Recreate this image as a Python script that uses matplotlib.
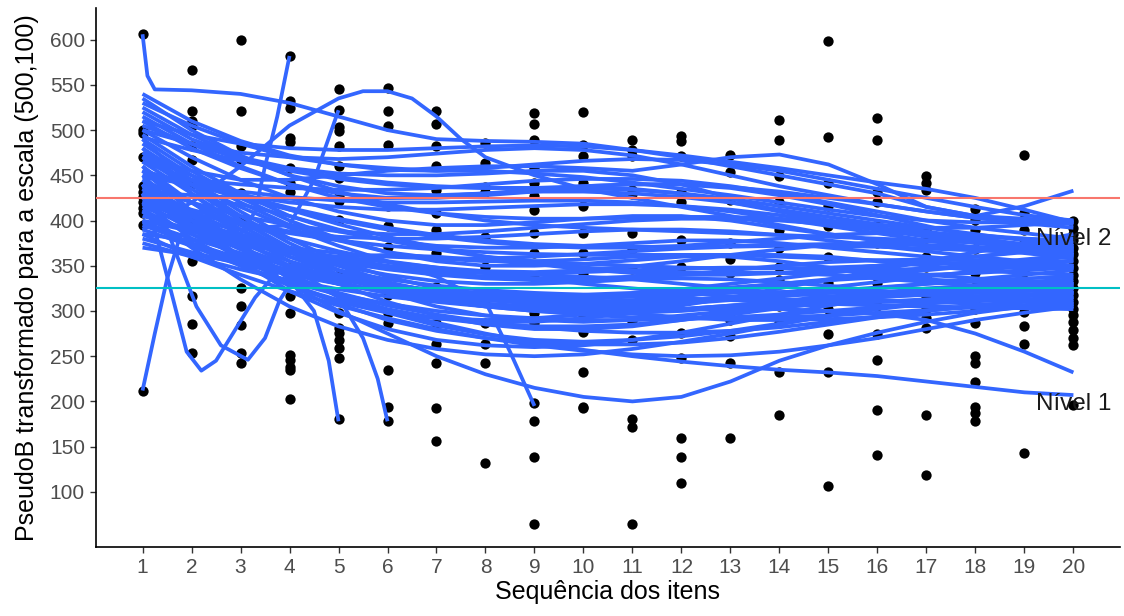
import matplotlib
matplotlib.use("Agg")
import matplotlib.pyplot as plt

plt.rcParams['font.family'] = ['Liberation Sans', 'DejaVu Sans']

# ---------- data ----------
items = list(range(1, 21))
y_ticks = [100, 150, 200, 250, 300, 350, 400, 450, 500, 550, 600]

# observed scores, one list per item position
points_by_item = [
    [606, 500, 497, 438, 432, 426, 420, 414, 408, 470, 395, 212],
    [567, 521, 510, 505, 482, 467, 440, 400, 355, 317, 286, 253],
    [600, 521, 482, 467, 430, 399, 359, 325, 305, 284, 254, 243],
    [582, 532, 524, 491, 487, 458, 442, 431, 348, 316, 298, 251, 246, 238, 235, 203],
    [545, 522, 503, 499, 482, 460, 447, 427, 422, 401, 357, 340, 298, 281, 276, 268, 259, 248, 180],
    [546, 521, 504, 484, 416, 394, 371, 318, 298, 287, 235, 194, 178],
    [521, 507, 482, 460, 434, 408, 390, 364, 327, 287, 263, 243, 193, 156],
    [486, 464, 437, 431, 382, 349, 312, 287, 263, 243, 132],
    [519, 507, 489, 458, 442, 427, 412, 386, 364, 338, 298, 287, 198, 178, 138, 64],
    [520, 484, 471, 442, 416, 386, 364, 342, 305, 294, 277, 232, 194, 193],
    [489, 478, 471, 434, 429, 386, 368, 346, 302, 289, 268, 180, 172, 64],
    [493, 488, 471, 431, 421, 379, 349, 316, 276, 248, 160, 138, 110],
    [473, 454, 423, 375, 357, 342, 298, 290, 272, 243, 160],
    [511, 489, 449, 421, 390, 370, 349, 334, 305, 287, 232, 185],
    [599, 492, 442, 416, 394, 360, 331, 302, 274, 232, 106],
    [513, 489, 431, 421, 394, 375, 331, 305, 274, 246, 191, 141],
    [449, 442, 434, 390, 381, 360, 338, 316, 302, 292, 281, 185, 119],
    [413, 401, 390, 368, 342, 327, 312, 302, 287, 250, 243, 222, 194, 187, 178],
    [473, 408, 389, 375, 351, 343, 299, 283, 263, 143],
    [399, 392, 385, 378, 370, 363, 355, 348, 340, 333, 325, 318, 310, 302, 295,
     288, 279, 270, 262, 196],
]

# smoothed trajectories that span items 1..20
full_curves = [
    [530, 505, 485, 470, 462, 458, 455, 455, 452, 448, 442, 435, 428, 420, 412, 405, 400, 398, 398, 398],
    [520, 490, 470, 458, 452, 450, 450, 452, 455, 455, 450, 440, 425, 410, 400, 395, 392, 392, 395, 398],
    [510, 480, 458, 440, 430, 425, 425, 428, 432, 435, 435, 430, 420, 410, 400, 390, 385, 382, 380, 378],
    [500, 470, 445, 425, 410, 400, 395, 395, 398, 402, 405, 405, 400, 392, 385, 378, 372, 368, 365, 362],
    [495, 460, 430, 405, 388, 378, 372, 370, 370, 372, 375, 378, 378, 375, 370, 365, 360, 355, 352, 350],
    [490, 455, 425, 400, 380, 365, 355, 350, 350, 352, 356, 360, 362, 362, 360, 355, 350, 345, 342, 340],
    [485, 450, 420, 395, 378, 365, 358, 355, 355, 357, 360, 362, 360, 355, 348, 340, 335, 332, 330, 330],
    [480, 445, 410, 380, 355, 338, 325, 318, 315, 315, 318, 322, 326, 330, 334, 337, 340, 342, 345, 348],
    [475, 440, 405, 375, 350, 332, 320, 312, 308, 306, 306, 308, 312, 316, 320, 325, 330, 335, 340, 345],
    [470, 435, 400, 370, 345, 325, 312, 305, 300, 298, 298, 300, 304, 308, 312, 316, 318, 320, 322, 325],
    [465, 430, 395, 365, 340, 320, 305, 295, 290, 288, 290, 295, 300, 305, 310, 315, 318, 320, 322, 325],
    [460, 420, 385, 355, 330, 310, 295, 285, 280, 280, 283, 290, 298, 305, 312, 318, 322, 325, 327, 328],
    [455, 440, 428, 420, 415, 412, 412, 414, 416, 418, 418, 416, 412, 406, 398, 390, 382, 375, 370, 365],
    [450, 445, 440, 436, 434, 434, 436, 440, 444, 446, 446, 444, 438, 430, 420, 410, 400, 392, 386, 380],
    [448, 440, 432, 426, 422, 420, 420, 421, 422, 422, 420, 416, 410, 402, 394, 386, 378, 370, 364, 358],
    [445, 405, 370, 340, 316, 298, 284, 274, 268, 266, 268, 272, 278, 286, 294, 302, 308, 314, 318, 322],
    [440, 410, 385, 365, 350, 340, 333, 330, 330, 332, 335, 336, 335, 332, 328, 322, 318, 315, 312, 310],
    [438, 420, 405, 395, 388, 385, 385, 388, 392, 396, 400, 402, 402, 400, 396, 390, 384, 378, 372, 367],
    [435, 405, 380, 360, 345, 335, 328, 323, 320, 318, 316, 314, 312, 310, 308, 306, 305, 304, 303, 302],
    [432, 428, 425, 424, 424, 425, 427, 430, 432, 432, 430, 426, 420, 412, 404, 396, 388, 380, 372, 365],
    [430, 400, 375, 355, 340, 330, 322, 316, 312, 310, 310, 312, 315, 318, 320, 320, 318, 315, 310, 305],
    [428, 412, 398, 388, 382, 380, 380, 382, 385, 388, 390, 390, 388, 384, 378, 372, 366, 360, 355, 350],
    [425, 395, 370, 350, 335, 325, 318, 314, 312, 313, 316, 320, 325, 330, 335, 340, 345, 350, 355, 360],
    [422, 408, 396, 386, 378, 372, 368, 365, 363, 362, 362, 362, 362, 360, 358, 356, 354, 352, 350, 348],
    [420, 400, 382, 368, 358, 350, 345, 342, 340, 338, 335, 330, 325, 320, 316, 312, 310, 308, 306, 305],
    [418, 392, 368, 348, 332, 320, 312, 306, 302, 300, 300, 302, 306, 310, 315, 320, 325, 328, 330, 332],
    [415, 395, 378, 365, 355, 348, 344, 342, 342, 343, 345, 347, 348, 348, 346, 343, 340, 336, 333, 330],
    [412, 385, 360, 338, 320, 306, 296, 288, 282, 278, 276, 276, 278, 282, 288, 294, 300, 306, 311, 315],
    [410, 385, 362, 344, 330, 320, 313, 308, 305, 303, 302, 302, 303, 305, 307, 310, 313, 316, 318, 320],
    [405, 390, 376, 364, 354, 346, 340, 336, 334, 334, 336, 340, 345, 350, 354, 356, 357, 356, 354, 350],
    [400, 388, 378, 370, 364, 360, 358, 358, 360, 363, 366, 369, 371, 372, 372, 371, 369, 367, 365, 363],
    [398, 380, 364, 350, 338, 328, 320, 314, 310, 308, 308, 310, 314, 318, 322, 326, 330, 333, 336, 338],
    [395, 375, 358, 345, 335, 328, 323, 320, 318, 318, 320, 324, 330, 336, 342, 348, 354, 360, 366, 372],
    [390, 372, 356, 342, 330, 320, 312, 305, 300, 296, 293, 292, 292, 293, 295, 298, 301, 304, 306, 308],
    [385, 360, 340, 322, 306, 292, 280, 270, 262, 256, 252, 250, 251, 255, 262, 270, 280, 290, 298, 305],
    [380, 365, 352, 340, 330, 322, 316, 312, 310, 310, 312, 316, 322, 328, 334, 340, 346, 352, 357, 362],
    [375, 360, 346, 334, 324, 316, 310, 305, 302, 300, 300, 302, 305, 309, 313, 317, 320, 322, 324, 325],
    [370, 362, 354, 346, 338, 330, 322, 315, 308, 302, 297, 293, 290, 290, 291, 293, 296, 300, 304, 308],
    [420, 390, 360, 330, 300, 275, 250, 230, 215, 205, 200, 205, 222, 245, 262, 276, 288, 298, 305, 310],
    [445, 405, 370, 340, 318, 300, 287, 275, 265, 257, 250, 244, 239, 235, 232, 228, 222, 216, 210, 207],
    [455, 420, 390, 365, 345, 330, 320, 313, 308, 305, 303, 302, 302, 302, 300, 297, 290, 275, 255, 232],
    [410, 370, 335, 305, 283, 268, 258, 252, 250, 252, 258, 266, 275, 285, 295, 303, 310, 315, 318, 320],
    [435, 395, 360, 330, 308, 290, 278, 270, 265, 263, 263, 265, 270, 277, 285, 293, 300, 306, 310, 313],
    [510, 495, 485, 480, 478, 478, 480, 482, 483, 482, 478, 472, 465, 458, 450, 442, 435, 425, 412, 398],
    [540, 510, 488, 472, 462, 456, 455, 458, 462, 466, 468, 467, 462, 455, 445, 435, 425, 415, 406, 400],
    [500, 485, 475, 470, 468, 470, 474, 478, 480, 478, 472, 462, 450, 438, 428, 418, 410, 403, 399, 396],
    [525, 495, 470, 450, 438, 430, 428, 430, 434, 438, 440, 440, 437, 432, 425, 418, 410, 403, 397, 392],
    [470, 455, 445, 445, 450, 455, 458, 460, 460, 458, 455, 462, 470, 473, 462, 440, 415, 405, 416, 433],
    [460, 410, 370, 340, 318, 302, 292, 286, 283, 283, 285, 290, 296, 303, 310, 316, 321, 325, 328, 330],
    [490, 440, 400, 368, 345, 328, 316, 308, 303, 300, 300, 302, 306, 311, 316, 320, 323, 325, 326, 326],
    [505, 485, 468, 455, 446, 440, 437, 436, 436, 436, 434, 430, 424, 416, 408, 400, 392, 385, 378, 372],
    [515, 485, 460, 440, 425, 415, 408, 404, 402, 402, 403, 404, 404, 402, 398, 392, 386, 380, 374, 368],
    [535, 500, 472, 450, 432, 418, 408, 400, 395, 392, 390, 388, 386, 384, 382, 380, 378, 376, 374, 372],
    [450, 400, 360, 330, 310, 298, 292, 290, 292, 296, 302, 308, 314, 320, 326, 332, 338, 344, 350, 356],
    [480, 430, 390, 360, 340, 326, 318, 314, 313, 314, 316, 318, 320, 321, 322, 322, 321, 320, 318, 316],
    [420, 380, 350, 328, 312, 300, 292, 288, 288, 292, 298, 306, 315, 325, 335, 345, 355, 365, 375, 385],
    [465, 445, 428, 414, 402, 392, 384, 378, 374, 372, 371, 371, 372, 373, 374, 374, 373, 371, 368, 365],
    [400, 372, 350, 332, 318, 308, 300, 295, 292, 290, 290, 291, 293, 296, 300, 304, 308, 312, 316, 320],
    [440, 395, 355, 322, 298, 280, 268, 262, 260, 262, 268, 276, 286, 296, 306, 315, 322, 328, 332, 335],
    [470, 450, 430, 412, 396, 382, 370, 360, 352, 346, 342, 340, 340, 342, 346, 350, 355, 360, 365, 370],
    [385, 378, 372, 366, 360, 354, 348, 342, 336, 330, 325, 320, 316, 313, 311, 310, 310, 311, 313, 315],
    [455, 440, 425, 412, 400, 390, 382, 376, 372, 370, 370, 372, 376, 380, 384, 386, 386, 384, 380, 375],
    [492, 478, 466, 456, 448, 442, 438, 436, 436, 438, 440, 440, 436, 428, 418, 406, 394, 382, 372, 362],
    [445, 420, 398, 380, 366, 355, 348, 344, 343, 345, 349, 355, 362, 368, 373, 376, 377, 376, 373, 369],
]

# trajectories with uneven item positions (steep ends / early stops)
part_x = [
    [1, 1.1, 1.25, 2, 3, 4, 5, 6, 7, 8, 9, 10, 11, 12, 13, 14, 15, 16, 17, 18, 19, 20],
    [1, 2, 3, 4, 5, 5.5, 6, 6.5, 7, 7.5, 8, 9, 10, 11, 12, 13, 14, 15, 16, 17, 18, 19, 20],
    [1, 1.25, 1.5, 1.75, 2, 2.5, 3, 4, 5, 6, 7, 8, 9, 10, 11, 12, 13, 14, 15, 16, 17, 18, 19, 20],
    [1, 2, 3, 4, 4.5, 4.8, 5],
    [1, 2, 3, 4, 5, 5.5, 5.8, 6],
    [1, 2, 3, 4, 5, 6, 7, 8, 8.5, 9],
    [1, 2, 3, 3.3, 3.5, 3.75, 4],
    [1, 2, 3, 4, 4.5, 5],
    [1, 1.3, 1.6, 1.9, 2.2, 2.5, 2.9, 3.3, 3.7, 4, 5, 6, 7, 8, 9, 10, 11, 12, 13, 14, 15, 16, 17, 18, 19, 20],
    [1, 1.5, 2.1, 2.6, 3.15, 3.5, 3.8, 4.2, 5, 6, 7, 8, 9, 10, 11, 12, 13, 14, 15, 16, 17, 18, 19, 20],
]
part_y = [
    [606, 560, 545, 544, 540, 530, 515, 500, 490, 488, 487, 485, 478, 470, 460, 450, 440, 430, 415, 405, 402, 400],
    [390, 420, 460, 505, 535, 543, 543, 535, 515, 490, 470, 450, 435, 425, 415, 405, 395, 385, 378, 372, 368, 365, 362],
    [212, 275, 335, 380, 405, 420, 418, 405, 390, 378, 368, 360, 355, 352, 350, 348, 347, 347, 348, 350, 352, 353, 354, 355],
    [455, 410, 375, 335, 300, 245, 178],
    [440, 405, 378, 350, 315, 270, 225, 178],
    [470, 440, 415, 392, 372, 355, 338, 310, 255, 195],
    [430, 395, 385, 410, 460, 515, 582],
    [430, 400, 390, 395, 445, 522],
    [430, 380, 318, 255, 234, 245, 280, 315, 340, 350, 352, 348, 342, 338, 336, 336, 338, 340, 342, 342, 340, 336, 332, 328, 324, 320],
    [440, 390, 305, 262, 246, 270, 312, 345, 360, 362, 360, 356, 352, 348, 345, 343, 342, 342, 343, 345, 347, 348, 348, 347],
]

hline_levels = [425, 325]
hline_colors = ["#F8766D", "#00BFC4"]
level_labels = ["Nível 2", "Nível 1"]
label_y = [380, 197]

# ---------- plot ----------
fig = plt.figure(figsize=(11.24, 6.16), dpi=100)
ax = fig.add_axes([0.0854, 0.112, 0.911, 0.875])

line_kw = dict(color="#3366FF", lw=2.7, solid_capstyle="butt", solid_joinstyle="round", zorder=3)

for it, vals in zip(items, points_by_item):
    ax.scatter([it] * len(vals), vals, s=55, color="black", linewidths=0, zorder=2)

for ys in full_curves:
    ax.plot(items[:len(ys)], ys, **line_kw)
for xs, ys in zip(part_x, part_y):
    ax.plot(xs, ys, **line_kw)

for lev, col in zip(hline_levels, hline_colors):
    ax.axhline(lev, color=col, lw=1.5, zorder=4)

for lab, ly in zip(level_labels, label_y):
    ax.text(20, ly, lab, ha="center", va="center", fontsize=17.5, color="#1a1a1a", zorder=5)

ax.set_xlim(0.05, 20.95)
ax.set_ylim(39, 635)
ax.set_xticks(items)
ax.set_yticks(y_ticks)
ax.tick_params(labelcolor="#4D4D4D", labelsize=15, length=4.5, width=1, color="#333333", pad=3.5)
for side in ["top", "right"]:
    ax.spines[side].set_visible(False)
for side in ["left", "bottom"]:
    ax.spines[side].set_linewidth(1.2)
    ax.spines[side].set_color("black")

ax.set_xlabel("Sequência dos itens", fontsize=18, labelpad=2)
ax.set_ylabel("PseudoB transformado para a escala (500,100)", fontsize=18, labelpad=8)

fig.savefig("out.png", dpi=100)
